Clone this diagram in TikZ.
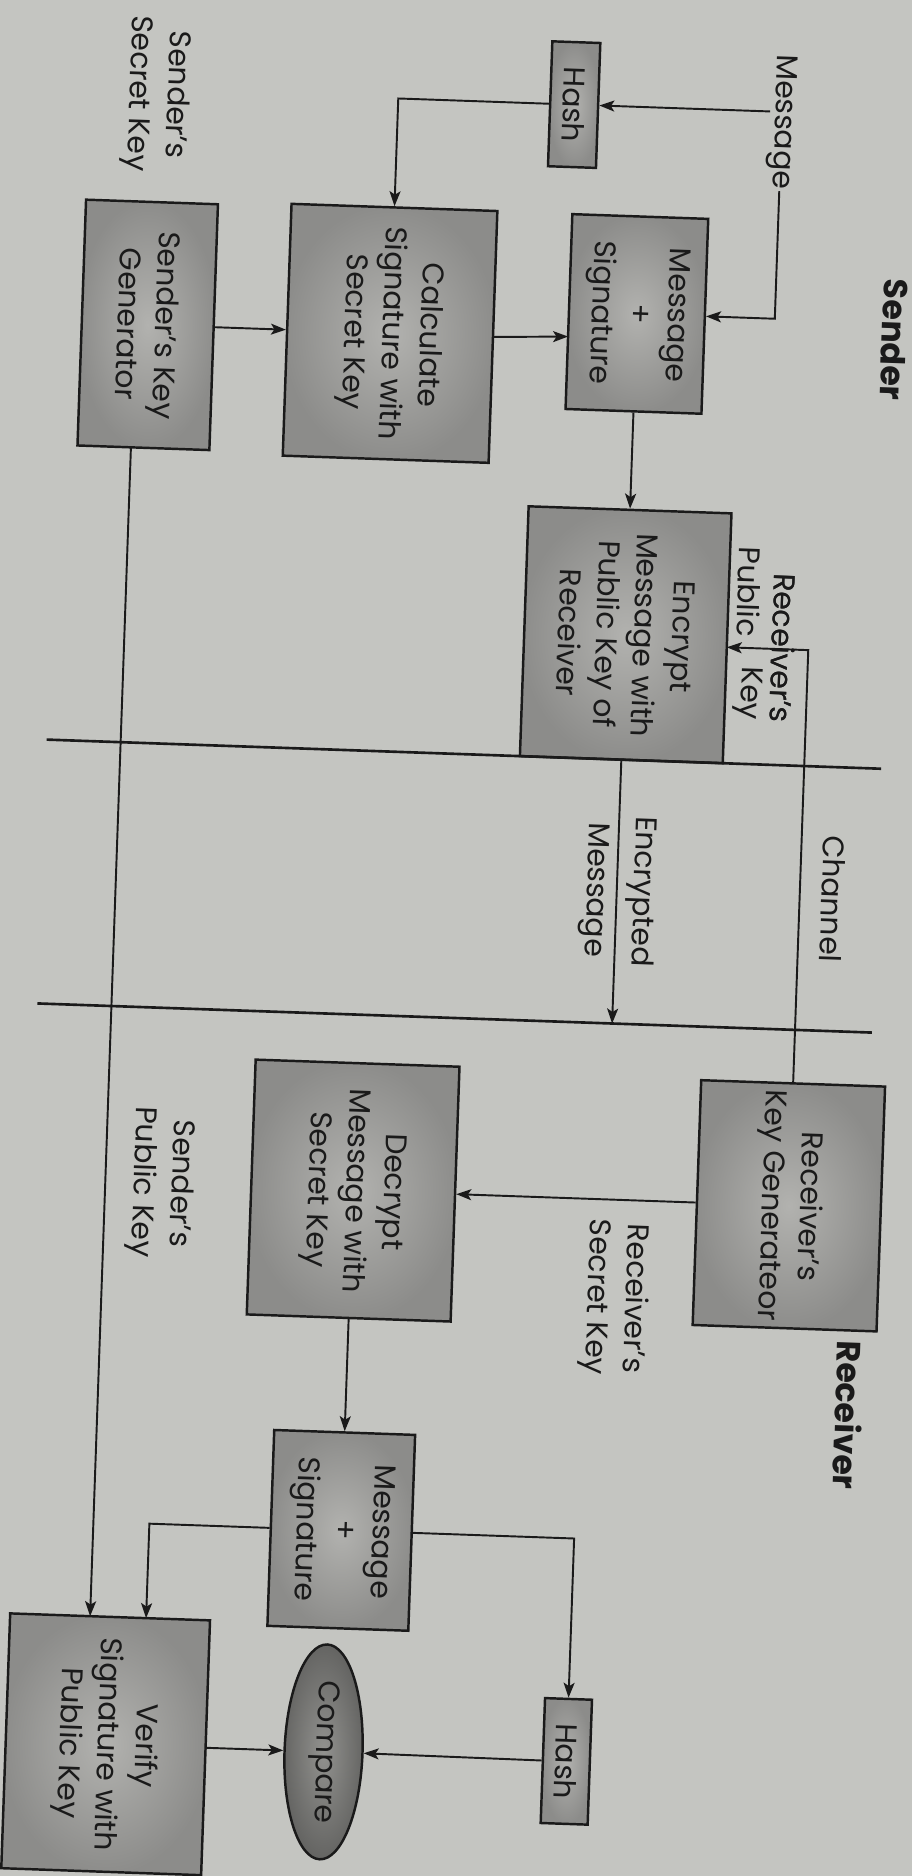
\documentclass[tikz,border=0pt]{standalone}
\usepackage{fontspec}
\setmainfont{Poppins}
\usetikzlibrary{arrows.meta,shapes.geometric}
\definecolor{paper}{RGB}{196,197,193}
\definecolor{boxlight}{RGB}{178,178,175}
\definecolor{boxdark}{RGB}{140,140,138}
\definecolor{ovallight}{RGB}{146,146,143}
\definecolor{ovaldark}{RGB}{100,100,98}
\definecolor{ink}{RGB}{26,26,26}
\begin{document}
\begin{tikzpicture}[x=0.02cm, y=-0.02cm,
  txt/.style={font=\fontsize{17}{21.6}\selectfont, text=ink},
  box/.style={txt, draw=ink, line width=1.4pt, rotate=-90, align=center, inner sep=0pt,
    shade, inner color=boxlight, outer color=boxdark},
  oval/.style={txt, ellipse, draw=ink, line width=1.4pt, rotate=-90, inner sep=0pt,
    shade, inner color=ovallight, outer color=ovaldark},
  lbl/.style={txt, rotate=-90, align=center, inner sep=1pt},
  head/.style={lbl, font=\bfseries\fontsize{19}{22}\selectfont},
  conn/.style={draw=ink, line width=1.1pt},
  arr/.style={conn, -{Stealth[length=0.3cm, width=0.22cm, inset=0.07cm]}},
  chan/.style={draw=ink, line width=1.5pt}]
\useasboundingbox (0,0) rectangle (912,1876);
\fill[paper] (0,0) rectangle (912,1876);
\begin{scope}[rotate around={-2:(456,938)}, transform shape]
% headings and labels
\node[head] (sender) at (873,325) {Sender};
\node[head] (receiver) at (865,1401) {Receiver};
\node[lbl] (msg) at (753,111) {Message};
\node[lbl] (sskey) at (127,105) {Sender’s\\Secret Key};
\node[lbl] (rpk1) at (773,637) {Receiver’s};
\node[lbl] (rpk2) at (737,582) {Public};
\node[lbl] (rpk3) at (739,683) {Key};
\node[lbl] (chn) at (831,886) {Channel};
\node[lbl] (encm) at (616,885) {Encrypted\\[5pt]Message};
\node[lbl] (rsk) at (627,1292) {Receiver’s\\Secret Key};
\node[lbl] (spk) at (169,1193) {Sender’s\\Public Key};
% boxes
\node[box, minimum width=2.5cm, minimum height=0.96cm] (hashS) at (545,101) {Hash};
\node[box, minimum width=3.9cm, minimum height=2.72cm] (msS) at (615,308) {Message\\+\\Signature};
\node[box, minimum width=5.04cm, minimum height=4.12cm] (calc) at (369,336) {Calculate\\Signature with\\Secret Key};
\node[box, minimum width=4.92cm, minimum height=2.64cm] (kgS) at (126.5,336) {Sender’s Key\\Generator};
\node[box, minimum width=5cm, minimum height=4.06cm] (enc) at (615,629) {Encrypt\\Message with\\Public Key of\\Receiver};
\node[box, minimum width=4.9cm, minimum height=3.68cm] (rkg) at (798,1194) {Receiver’s\\Key Generateor};
\node[box, minimum width=5.1cm, minimum height=4.08cm] (dec) at (362,1194) {Decrypt\\Message with\\Secret Key};
\node[box, minimum width=3.92cm, minimum height=2.82cm] (msR) at (362,1534) {Message\\+\\Signature};
\node[box, minimum width=2.5cm, minimum height=0.94cm] (hashR) at (595,1757) {Hash};
\node[oval, minimum width=4.3cm, minimum height=1.56cm] (cmp) at (352,1756) {Compare};
\node[box, minimum width=5.1cm, minimum height=4cm] (ver) at (134,1756) {Verify\\Signature with\\Public Key};
% helper coordinates
\coordinate (m1) at (741,101);
\coordinate (m3) at (753,308);
\coordinate (h1) at (369,101);
\coordinate (c1) at (547,333);
\coordinate (r1) at (798,638);
\coordinate (e1) at (716.5,638);
\coordinate (em) at (615,1018);
\coordinate (k1) at (595,1534);
\coordinate (k2) at (170,1534);
\coordinate (v1) at (170,1628.5);
\coordinate (k3) at (114,459);
\coordinate (v2) at (114,1628.5);
\coordinate (cl1) at (40,754);
\coordinate (cl2) at (875,754);
\coordinate (cl3) at (40,1018);
\coordinate (cl4) at (875,1018);
% channel
\draw[chan] (cl1) -- (cl2);
\draw[chan] (cl3) -- (cl4);
% connectors
\draw[arr] (m1) -- (hashS.north);
\draw[arr] (msg.east) -- (m3) -- (msS.north);
\draw[arr] (hashS.south) -- (h1) -- (calc.west);
\draw[arr] (kgS.north) -- (calc.south);
\draw[arr] (calc.north) -- (c1);
\draw[arr] (msS.east) -- (enc.west);
\draw[arr] (rkg.west) -- (r1) -- (e1);
\draw[arr] (enc.east) -- (em);
\draw[arr] (rkg.south) -- (dec.north);
\draw[arr] (dec.east) -- (msR.west);
\draw[arr] (msR.north) -- (k1) -- (hashR.west);
\draw[arr] (msR.south) -- (k2) -- (v1);
\draw[arr] (k3) -- (v2);
\draw[arr] (ver.north) -- (cmp.south);
\draw[arr] (hashR.south) -- (cmp.north);
% redraw label crossed by a line
\node[lbl] at (rpk1) {Receiver’s};
\end{scope}
\end{tikzpicture}
\end{document}
